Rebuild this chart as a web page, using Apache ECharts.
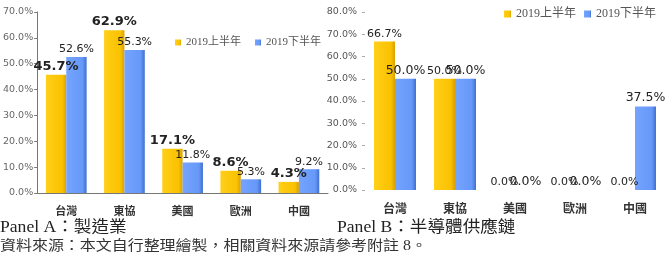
<!DOCTYPE html>
<html><head><meta charset="utf-8">
<script src="https://cdn.jsdelivr.net/npm/echarts@6/dist/echarts.min.js"></script>
<style>html,body{margin:0;padding:0;background:#fff;}#c{width:666px;height:253px;}</style>
</head><body><div id="c"></div>
<script>
const categories = ['台灣', '東協', '美國', '歐洲', '中國'];
const seriesNames = ['2019上半年', '2019下半年'];
const mfgH1 = [45.7, 62.9, 17.1, 8.6, 4.3];
const mfgH2 = [52.6, 55.3, 11.8, 5.3, 9.2];
const semiH1 = [66.7, 50.0, 0.0, 0.0, 0.0];
const semiH2 = [50.0, 50.0, 0.0, 0.0, 37.5];
const captionA = 'Panel A：製造業';
const captionB = 'Panel B：半導體供應鏈';
const sourceText = '資料來源：本文自行整理繪製，相關資料來源請參考附註 8。';

const yellow = new echarts.graphic.LinearGradient(0, 0, 1, 0, [
  {offset: 0, color: '#FFCF1A'}, {offset: 0.8, color: '#FAC200'}, {offset: 1, color: '#D9A000'}]);
const blue = new echarts.graphic.LinearGradient(0, 0, 1, 0, [
  {offset: 0, color: '#75A4FF'}, {offset: 0.8, color: '#6698F8'}, {offset: 1, color: '#3F6FD0'}]);
const serif = '"Liberation Serif", "Noto Sans CJK TC", serif';
const sans = '"Noto Sans CJK TC", sans-serif';
const pct = p => p.value.toFixed(1) + '%';

function bar(name, data, color, xi, fs, fw) {
  return {
    type: 'bar', name, data, xAxisIndex: xi, yAxisIndex: xi,
    barGap: '0%', barCategoryGap: '30%',
    itemStyle: {color},
    label: {show: true, position: 'top', formatter: pct, color: '#222',
      fontFamily: '"DejaVu Sans", sans-serif', fontSize: fs, fontWeight: fw, distance: 2}
  };
}

const chart = echarts.init(document.getElementById('c'), null, {renderer: 'canvas'});
chart.setOption({
  animation: false,
  backgroundColor: '#fff',
  color: ['#FAC200', '#6698F8'],
  grid: [
    {left: 30, top: 12, width: 298, height: 181},
    {left: 365, top: 12, width: 300, height: 178}
  ],
  legend: [
    {left: 170, top: 32, width: 160, orient: 'horizontal', itemWidth: 6, itemHeight: 6, itemGap: 14, icon: 'rect',
      data: seriesNames, textStyle: {fontFamily: serif, fontSize: 11, color: '#555'}},
    {left: 504, top: 8, width: 162, orient: 'horizontal', padding: 0, itemWidth: 7, itemHeight: 7, itemGap: 8, icon: 'rect',
      data: seriesNames, textStyle: {fontFamily: serif, fontSize: 12, color: '#555'}}
  ],
  xAxis: [
    {type: 'category', gridIndex: 0, data: categories,
      axisLine: {lineStyle: {color: '#777'}}, axisTick: {length: 4, lineStyle: {color: '#777'}},
      axisLabel: {margin: 12, fontSize: 11, fontFamily: sans, fontWeight: 'bold', color: '#333'}},
    {type: 'category', gridIndex: 1, data: categories,
      axisLine: {show: false}, axisTick: {length: 4, lineStyle: {color: '#bbb'}},
      axisLabel: {margin: 12, fontSize: 12, fontFamily: sans, fontWeight: 'bold', color: '#333'}}
  ],
  yAxis: [
    {type: 'value', gridIndex: 0, min: 0, max: 70, interval: 10, splitLine: {show: false},
      axisLine: {show: true, lineStyle: {color: '#777'}}, axisTick: {show: true, length: 3, lineStyle: {color: '#777'}},
      axisLabel: {formatter: v => v.toFixed(1) + '%', fontSize: 9.5, color: '#666', margin: 4, fontFamily: '"DejaVu Sans", sans-serif'}},
    {type: 'value', gridIndex: 1, min: 0, max: 80, interval: 10, splitLine: {show: false},
      axisLine: {show: false}, axisTick: {show: true, length: 3, inside: false, lineStyle: {color: '#aaa'}},
      axisLabel: {formatter: v => v.toFixed(1) + '%', fontSize: 9.5, color: '#555', margin: 8, fontFamily: '"DejaVu Sans", sans-serif'}}
  ],
  series: [
    bar(seriesNames[0], mfgH1, yellow, 0, 13, 'bold'),
    bar(seriesNames[1], mfgH2, blue, 0, 11, 'normal'),
    bar(seriesNames[0], semiH1, yellow, 1, 11, 'normal'),
    bar(seriesNames[1], semiH2, blue, 1, 12.5, 'normal')
  ],
  graphic: [
    {type: 'text', left: 0, top: 220, scaleX: 1.1, style: {text: captionA, font: '16px ' + serif, fill: '#222'}},
    {type: 'text', left: 337, top: 220, scaleX: 1.1, style: {text: captionB, font: '16px ' + serif, fill: '#222'}},
    {type: 'text', left: 0, top: 239, scaleX: 1.14, style: {text: sourceText, font: '14px ' + serif, fill: '#333'}}
  ]
});
</script></body></html>
